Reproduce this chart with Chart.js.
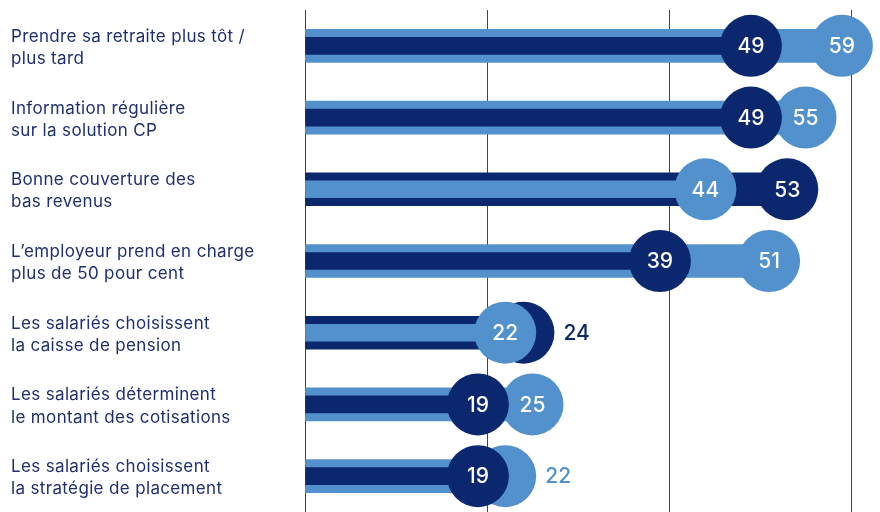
<!DOCTYPE html>
<html>
<head>
<meta charset="utf-8">
<script src="https://cdn.jsdelivr.net/npm/chart.js@4"></script>
<style>
  html, body { margin: 0; padding: 0; background: #ffffff; }
  #wrap { width: 880px; height: 512px; position: relative; }
</style>
</head>
<body>
<div id="wrap"><canvas id="c"></canvas></div>
<script>
const categories = [
  ["Prendre sa retraite plus tôt /", "plus tard"],
  ["Information régulière", "sur la solution CP"],
  ["Bonne couverture des", "bas revenus"],
  ["L’employeur prend en charge", "plus de 50 pour cent"],
  ["Les salariés choisissent", "la caisse de pension"],
  ["Les salariés déterminent", "le montant des cotisations"],
  ["Les salariés choisissent", "la stratégie de placement"]
];
const lightValues = [59, 55, 44, 51, 22, 25, 22];
const darkValues  = [49, 49, 53, 39, 24, 19, 19];
const xTicks = [0, 20, 40, 60];

const LIGHT = '#5291cc';
const DARK = '#0b286e';
const TEXT = '#1e2f6e';
const GRID = '#2b418c';
const FONT = 'Inter, "Open Sans", sans-serif';

// larger value drawn wide behind, smaller drawn thin on top
const bigVals = lightValues.map((v, i) => Math.max(v, darkValues[i]));
const smallVals = lightValues.map((v, i) => Math.min(v, darkValues[i]));
const bigCols = lightValues.map((v, i) => v >= darkValues[i] ? LIGHT : DARK);
const smallCols = lightValues.map((v, i) => v >= darkValues[i] ? DARK : LIGHT);

const RADIUS = 31;

const spacingPlugin = {
  id: 'spacing',
  beforeDraw(chart) { chart.ctx.letterSpacing = '0.35px'; },
  afterDatasetsDraw(chart) { chart.ctx.letterSpacing = '0px'; }
};

const labelPlugin = {
  id: 'circleLabels',
  afterDatasetsDraw(chart) {
    const ctx = chart.ctx;
    const xs = chart.scales.x;
    const bigMeta = chart.getDatasetMeta(2);
    const smallMeta = chart.getDatasetMeta(3);
    ctx.save();
    ctx.letterSpacing = '0px';
    ctx.font = '500 21px ' + FONT;
    ctx.textBaseline = 'middle';
    for (let i = 0; i < categories.length; i++) {
      const sp = smallMeta.data[i];
      const bp = bigMeta.data[i];
      ctx.fillStyle = '#ffffff';
      ctx.textAlign = 'center';
      ctx.fillText(String(smallVals[i]), sp.x, sp.y + 1);
      const gap = xs.getPixelForValue(bigVals[i]) - xs.getPixelForValue(smallVals[i]);
      if (gap < 2 * RADIUS * 0.6) {
        ctx.fillStyle = bigCols[i];
        ctx.textAlign = 'left';
        ctx.fillText(String(bigVals[i]), bp.x + RADIUS + 9, bp.y + 1);
      } else {
        ctx.fillText(String(bigVals[i]), bp.x, bp.y + 1);
      }
    }
    ctx.restore();
  }
};

new Chart(document.getElementById('c'), {
  type: 'bar',
  data: {
    labels: categories,
    datasets: [
      {
        type: 'bar', label: 'wide', data: bigVals, backgroundColor: bigCols,
        barThickness: 33, grouped: false, order: 4, borderWidth: 0
      },
      {
        type: 'bar', label: 'thin', data: smallVals, backgroundColor: smallCols,
        barThickness: 17, grouped: false, order: 3, borderWidth: 0
      },
      {
        type: 'line', indexAxis: 'y', label: 'bigCircle', data: bigVals,
        showLine: false, pointRadius: RADIUS, pointHoverRadius: RADIUS,
        pointBackgroundColor: bigCols, pointBorderWidth: 0, borderWidth: 0,
        clip: false, order: 2
      },
      {
        type: 'line', indexAxis: 'y', label: 'smallCircle', data: smallVals,
        showLine: false, pointRadius: RADIUS, pointHoverRadius: RADIUS,
        pointBackgroundColor: smallCols, pointBorderWidth: 0, borderWidth: 0,
        clip: false, order: 1
      }
    ]
  },
  options: {
    indexAxis: 'y',
    responsive: true,
    maintainAspectRatio: false,
    animation: false,
    layout: { autoPadding: false, padding: { left: 11, top: 10, right: 29, bottom: 0 } },
    plugins: { legend: { display: false }, tooltip: { enabled: false } },
    scales: {
      x: {
        min: 0, max: 60,
        afterBuildTicks: (s) => { s.ticks = xTicks.map(v => ({ value: v })); },
        grid: { color: GRID, lineWidth: 1, drawTicks: false },
        border: { display: false },
        ticks: { display: false },
        afterFit: (s) => { s.height = 0; s.paddingLeft = 0; s.paddingRight = 0; }
      },
      y: {
        grid: { display: false, drawTicks: false },
        border: { display: false },
        ticks: {
          crossAlign: 'far',
          color: TEXT,
          font: { family: FONT, size: 17, lineHeight: 1.3 },
          padding: 0,
          labelOffset: 2
        },
        afterFit: (s) => { s.width = 294; s.paddingTop = 0; s.paddingBottom = 0; }
      }
    }
  },
  plugins: [spacingPlugin, labelPlugin]
});
</script>
</body>
</html>
